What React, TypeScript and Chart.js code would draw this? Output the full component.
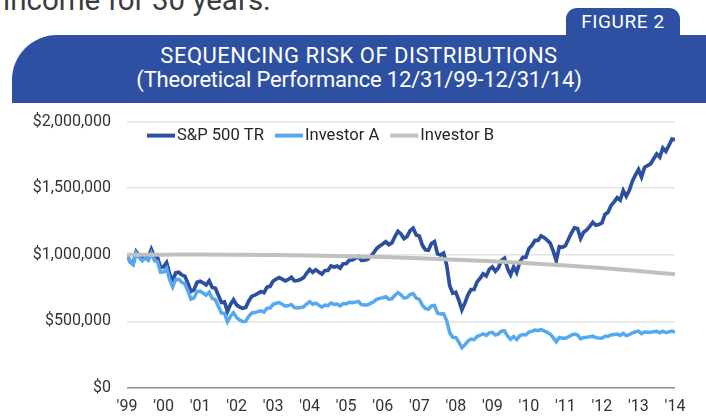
import React, { useEffect, useRef } from 'react';
import { Chart, registerables } from 'chart.js';

Chart.register(...registerables);

// Year tick labels (one per 12 months, Dec-99 .. Dec-14)
const yearLabels = ["'99", "'00", "'01", "'02", "'03", "'04", "'05", "'06", "'07", "'08", "'09", "'10", "'11", "'12", "'13", "'14"];

// Monthly values in thousands of dollars, Dec 1999 .. Dec 2014
const spTR = [
  1000,
  950, 932, 1023, 992, 972, 996, 981, 1041, 986, 982, 905, 909,
  942, 856, 802, 864, 869, 849, 840, 787, 724, 738, 794, 801,
  790, 774, 804, 755, 750, 696, 642, 646, 576, 627, 663, 624,
  608, 598, 604, 654, 689, 697, 710, 724, 716, 757, 763, 803,
  818, 829, 817, 804, 815, 831, 804, 807, 815, 828, 861, 890,
  869, 887, 871, 855, 882, 883, 916, 908, 915, 900, 933, 934,
  959, 961, 973, 987, 958, 959, 966, 988, 1014, 1047, 1066, 1081,
  1098, 1076, 1089, 1137, 1176, 1157, 1122, 1138, 1181, 1200, 1149, 1141,
  1073, 1038, 1034, 1085, 1099, 1007, 999, 1013, 923, 768, 712, 719,
  659, 587, 639, 700, 739, 740, 797, 825, 857, 841, 891, 909,
  877, 903, 958, 974, 896, 849, 909, 867, 944, 981, 980, 1046,
  1071, 1108, 1108, 1142, 1129, 1110, 1088, 1028, 956, 1061, 1057, 1068,
  1117, 1164, 1203, 1196, 1123, 1170, 1187, 1213, 1244, 1222, 1228, 1239,
  1303, 1320, 1370, 1397, 1429, 1410, 1482, 1439, 1484, 1553, 1599, 1640,
  1584, 1655, 1670, 1683, 1721, 1757, 1733, 1802, 1777, 1821, 1869, 1864,
];

const investorA = [
  1000,
  947, 925, 1012, 979, 955, 975, 957, 1013, 956, 949, 870, 871,
  899, 814, 759, 815, 816, 793, 782, 729, 667, 676, 724, 727,
  713, 696, 719, 672, 663, 613, 562, 561, 497, 537, 565, 528,
  511, 499, 500, 538, 563, 566, 573, 580, 570, 599, 600, 628,
  636, 641, 628, 614, 619, 627, 603, 601, 604, 609, 630, 648,
  628, 637, 622, 607, 622, 619, 638, 628, 630, 616, 634, 631,
  644, 641, 645, 650, 627, 624, 624, 635, 647, 665, 673, 678,
  685, 667, 670, 696, 716, 700, 675, 680, 702, 709, 675, 666,
  622, 598, 591, 616, 620, 563, 555, 558, 504, 415, 381, 380,
  344, 303, 325, 352, 367, 363, 386, 396, 406, 395, 414, 418,
  398, 406, 426, 429, 390, 365, 386, 364, 392, 402, 398, 420,
  425, 435, 431, 439, 429, 418, 405, 378, 347, 380, 374, 373,
  385, 397, 405, 398, 369, 380, 381, 384, 389, 378, 375, 373,
  388, 388, 398, 401, 405, 394, 410, 393, 400, 414, 421, 427,
  408, 421, 419, 418, 422, 426, 415, 426, 415, 421, 427, 420,
];

// Year-end values (thousands), Dec 1999 .. Dec 2014
const investorB = [1000, 1001, 1002, 1001, 999, 995, 990, 983, 974, 963, 951, 936, 919, 900, 878, 853];

const seriesNames = ['S&P 500 TR', 'Investor A', 'Investor B'];
const seriesColors = ['#2d4f9f', '#56a9ef', '#c0c0c0'];

const BLUE = '#2e50a2';
const FONT = 'Roboto, "Noto Sans", sans-serif';

const legendPlugin = {
  id: 'insideLegend',
  afterDraw(chart: any) {
    const ctx = chart.ctx;
    const area = chart.chartArea;
    ctx.save();
    ctx.font = `16.6px ${FONT}`;
    ctx.textBaseline = 'middle';
    ctx.textAlign = 'left';
    let x = area.left + 20;
    const y = area.top + 14;
    chart.data.datasets.forEach((ds: any) => {
      ctx.strokeStyle = ds.borderColor;
      ctx.lineWidth = 4;
      ctx.lineCap = 'butt';
      ctx.beginPath();
      ctx.moveTo(x, y);
      ctx.lineTo(x + 28, y);
      ctx.stroke();
      x += 30;
      ctx.fillStyle = '#262626';
      ctx.fillText(ds.label, x, y);
      x += ctx.measureText(ds.label).width + 11;
    });
    ctx.restore();
  },
};

function LineChart() {
  const ref = useRef<HTMLCanvasElement | null>(null);
  useEffect(() => {
    if (!ref.current) return;
    Chart.defaults.font.family = FONT;
    const chart = new Chart(ref.current, {
      type: 'line',
      data: {
        datasets: [
          {
            label: seriesNames[0],
            data: spTR.map((v, i) => ({ x: i, y: v })),
            borderColor: seriesColors[0],
            backgroundColor: seriesColors[0],
            borderWidth: 3.7,
            pointRadius: 0,
            tension: 0,
            order: 2,
          },
          {
            label: seriesNames[1],
            data: investorA.map((v, i) => ({ x: i, y: v })),
            borderColor: seriesColors[1],
            backgroundColor: seriesColors[1],
            borderWidth: 3.5,
            pointRadius: 0,
            tension: 0,
            order: 1,
          },
          {
            label: seriesNames[2],
            data: investorB.map((v, i) => ({ x: i * 12, y: v })),
            borderColor: seriesColors[2],
            backgroundColor: seriesColors[2],
            borderWidth: 4,
            pointRadius: 0,
            cubicInterpolationMode: 'monotone',
            order: 0,
          },
        ],
      },
      options: {
        responsive: false,
        animation: false,
        devicePixelRatio: 1,
        layout: { padding: { top: 0, right: 31, left: 0, bottom: 0 } },
        plugins: { legend: { display: false }, tooltip: { enabled: false } },
        scales: {
          x: {
            type: 'linear',
            min: 0,
            max: 180,
            grid: { display: false, drawTicks: false },
            border: { display: false },
            ticks: {
              stepSize: 12,
              autoSkip: false,
              maxRotation: 0,
              padding: 9,
              color: '#333333',
              font: { size: 16, family: FONT },
              callback: (v: any) => yearLabels[Math.round(Number(v) / 12)] ?? '',
            },
            afterFit: (s: any) => { s.height = 29; },
          },
          y: {
            min: 0,
            max: 2000,
            grid: {
              drawTicks: false,
              color: (c: any) => (c.tick && c.tick.value === 0 ? '#8f8f8f' : '#e3e3e3'),
              lineWidth: 1.6,
            },
            border: { display: false },
            ticks: {
              stepSize: 500,
              padding: 16,
              color: '#333333',
              font: { size: 16, family: FONT },
              callback: (v: any) => '$' + (Number(v) * 1000).toLocaleString('en-US'),
            },
            afterFit: (s: any) => { s.width = 127; },
          },
        },
      },
      plugins: [legendPlugin],
    } as any);
    return () => chart.destroy();
  }, []);
  return <canvas ref={ref} width={706} height={321} style={{ display: 'block' }} />;
}

export default function App() {
  return (
    <div
      style={{
        position: 'absolute',
        left: 0,
        top: 0,
        width: 706,
        height: 417,
        overflow: 'hidden',
        background: '#ffffff',
        fontFamily: FONT,
      }}
    >
      <div
        style={{
          position: 'absolute',
          left: 3,
          top: -14,
          fontSize: 29.5,
          lineHeight: '29.5px',
          color: '#3c3c3c',
          whiteSpace: 'nowrap',
        }}
      >
        income for 30 years.
      </div>
      <div
        style={{
          position: 'absolute',
          left: 566,
          top: 8,
          width: 114,
          height: 40,
          background: BLUE,
          borderRadius: '11px 11px 0 0',
          color: '#ffffff',
          fontSize: 19,
          letterSpacing: 0.6,
          lineHeight: '28px',
          textAlign: 'center',
        }}
      >
        FIGURE 2
      </div>
      <div
        style={{
          position: 'absolute',
          left: 12,
          top: 35,
          width: 694,
          height: 68,
          background: BLUE,
          borderTopLeftRadius: 45,
          color: '#ffffff',
          textAlign: 'center',
          fontSize: 22,
          lineHeight: '24px',
          paddingTop: 9,
          boxSizing: 'border-box',
        }}
      >
        <div style={{ letterSpacing: 0.5 }}>SEQUENCING RISK OF DISTRIBUTIONS</div>
        <div style={{ letterSpacing: -0.2 }}>(Theoretical Performance 12/31/99-12/31/14)</div>
      </div>
      <div style={{ position: 'absolute', left: 0, top: 96, width: 706, height: 321 }}>
        <LineChart />
      </div>
    </div>
  );
}
